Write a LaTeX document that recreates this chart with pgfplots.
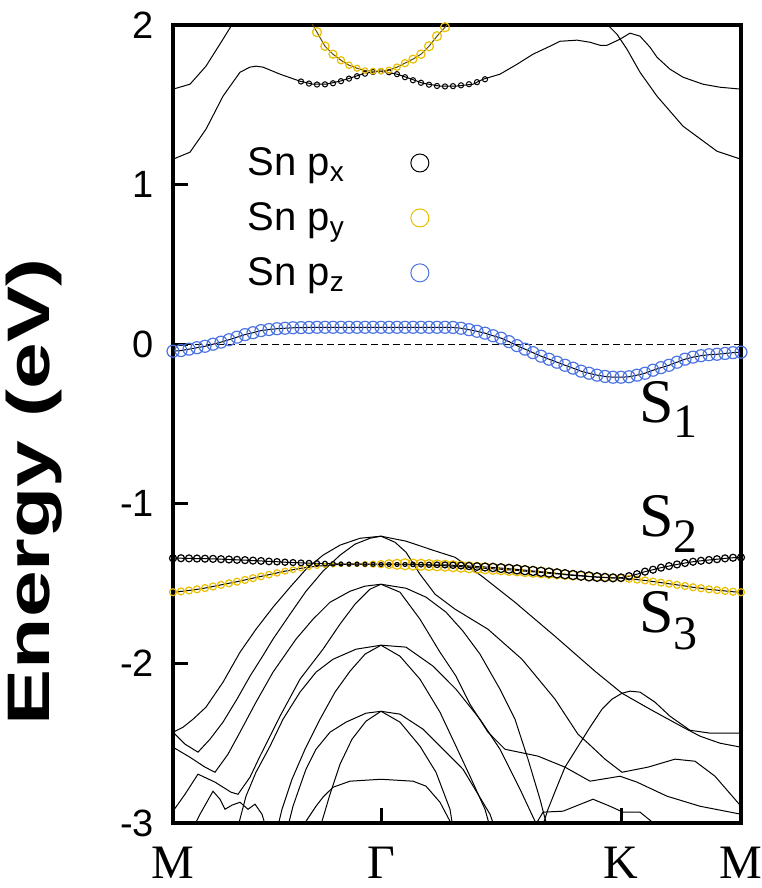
\documentclass[border=0pt]{standalone}
\usepackage{graphicx}
\usepackage{pgfplots}
\pgfplotsset{compat=1.18}
\usepackage{pgfplotstable}
\usepackage{fontspec}
\setmainfont{Liberation Serif}
\setsansfont{Liberation Sans}
\newfontfamily\hv{Liberation Sans}
\definecolor{pzblue}{RGB}{75,115,225}
\definecolor{pyyellow}{RGB}{235,190,0}

% S1 band (Sn pz), x = position along M-Gamma-K-M path
\pgfplotstableread{
u E
0 -0.044
8 -0.040
16 -0.031
24 -0.022
32 -0.013
40 0.000
48 0.013
56 0.028
64 0.044
72 0.060
80 0.072
88 0.085
96 0.092
104 0.097
112 0.100
120 0.103
128 0.104
136 0.105
144 0.106
152 0.106
160 0.106
168 0.106
176 0.106
184 0.106
192 0.106
200 0.106
208 0.106
216 0.106
224 0.106
232 0.106
240 0.106
248 0.106
256 0.106
264 0.106
272 0.106
280 0.105
288 0.100
296 0.091
304 0.081
312 0.069
320 0.053
328 0.038
336 0.016
344 -0.009
352 -0.031
360 -0.053
368 -0.075
376 -0.094
384 -0.113
392 -0.132
400 -0.150
408 -0.169
416 -0.182
424 -0.194
432 -0.202
440 -0.207
448 -0.207
456 -0.204
464 -0.194
472 -0.182
480 -0.163
488 -0.147
496 -0.132
504 -0.113
512 -0.094
520 -0.081
528 -0.072
536 -0.066
544 -0.063
552 -0.058
560 -0.053
568 -0.050
}\SOne

% S2 band (Sn px): u E r(mark size, pt)
\pgfplotstableread{
u E r
0 -1.341 1.75
8 -1.341 1.75
16 -1.342 1.75
24 -1.343 1.75
32 -1.344 1.75
40 -1.345 1.75
48 -1.347 1.75
56 -1.349 1.75
64 -1.351 1.75
72 -1.353 1.75
80 -1.356 1.75
88 -1.358 1.7
96 -1.361 1.65
104 -1.363 1.6
112 -1.366 1.55
120 -1.368 1.5
128 -1.370 1.45
136 -1.372 1.4
144 -1.373 1.3
152 -1.375 1.2
160 -1.376 1.1
168 -1.377 1.0
176 -1.378 1.0
184 -1.378 1.0
192 -1.379 1.0
200 -1.379 1.0
208 -1.380 1.0
216 -1.380 1.0
224 -1.380 1.0
232 -1.380 1.0
240 -1.380 1.1
248 -1.381 1.2
256 -1.382 1.3
264 -1.382 1.4
272 -1.383 1.5
280 -1.385 1.6
288 -1.387 1.7
296 -1.390 1.8
304 -1.393 1.9
312 -1.396 2.0
320 -1.399 2.1
328 -1.403 2.2
336 -1.407 2.25
344 -1.411 2.3
352 -1.416 2.3
360 -1.421 2.3
368 -1.426 2.3
376 -1.431 2.3
384 -1.436 2.3
392 -1.441 2.3
400 -1.446 2.3
408 -1.450 2.3
416 -1.455 2.3
424 -1.459 2.2
432 -1.462 2.1
440 -1.464 2.0
448 -1.463 1.9
456 -1.454 1.8
464 -1.441 1.75
472 -1.425 1.75
480 -1.413 1.75
488 -1.400 1.75
496 -1.390 1.75
504 -1.380 1.75
512 -1.371 1.75
520 -1.363 1.75
528 -1.357 1.75
536 -1.352 1.75
544 -1.347 1.75
552 -1.342 1.75
560 -1.338 1.75
568 -1.336 1.75
}\STwo

% S3 band (Sn py): u E r
\pgfplotstableread{
u E r
0 -1.554 1.75
8 -1.549 1.75
16 -1.543 1.75
24 -1.536 1.75
32 -1.528 1.75
40 -1.518 1.75
48 -1.508 1.75
56 -1.498 1.75
64 -1.488 1.75
72 -1.477 1.75
80 -1.466 1.75
88 -1.455 1.7
96 -1.444 1.65
104 -1.433 1.6
112 -1.422 1.5
120 -1.413 1.4
128 -1.404 1.3
136 -1.397 1.2
144 -1.391 1.1
152 -1.387 1.0
160 -1.383 1.0
168 -1.380 1.0
176 -1.379 1.0
184 -1.378 1.1
192 -1.378 1.3
200 -1.378 1.5
208 -1.378 1.8
216 -1.378 2.2
224 -1.379 2.5
232 -1.379 2.75
240 -1.381 2.75
248 -1.382 2.75
256 -1.384 2.75
264 -1.386 2.75
272 -1.388 2.75
280 -1.391 2.75
288 -1.394 2.75
296 -1.398 2.75
304 -1.401 2.75
312 -1.404 2.75
320 -1.407 2.75
328 -1.410 2.75
336 -1.414 2.75
344 -1.417 2.75
352 -1.422 2.75
360 -1.426 2.75
368 -1.430 2.7
376 -1.435 2.6
384 -1.439 2.5
392 -1.444 2.4
400 -1.449 2.3
408 -1.452 2.2
416 -1.456 2.1
424 -1.459 2.0
432 -1.461 1.9
440 -1.464 1.8
448 -1.466 1.75
456 -1.470 1.75
464 -1.475 1.75
472 -1.480 1.75
480 -1.487 1.75
488 -1.494 1.75
496 -1.501 1.75
504 -1.508 1.75
512 -1.515 1.75
520 -1.523 1.75
528 -1.529 1.75
536 -1.536 1.75
544 -1.541 1.75
552 -1.546 1.75
560 -1.551 1.75
568 -1.554 1.75
}\SThree

% upper conduction band carrying the px circles near Gamma
\pgfplotstableread{
u E
0 1.159
17 1.203
33 1.347
50 1.554
67 1.704
77 1.736
83 1.742
90 1.736
107 1.692
127 1.648
140 1.629
153 1.629
167 1.648
180 1.673
192 1.698
208 1.711
224 1.692
233 1.673
250 1.635
267 1.617
283 1.617
300 1.629
310 1.660
327 1.692
344 1.754
360 1.817
377 1.867
387 1.898
404 1.905
417 1.892
427 1.873
434 1.873
447 1.911
457 1.949
467 1.930
477 1.861
484 1.798
497 1.723
510 1.673
530 1.629
547 1.610
568 1.598
}\CBtwo

\pgfplotstableread{
u E
128 1.646
136 1.633
144 1.627
152 1.628
160 1.635
168 1.648
176 1.664
184 1.679
192 1.695
200 1.706
208 1.711
216 1.704
224 1.692
232 1.673
240 1.654
248 1.638
256 1.626
264 1.618
272 1.615
280 1.617
288 1.622
296 1.629
304 1.642
312 1.660
}\PXup

\pgfplotstableread{
u E r
136 2.04 2.25
144 1.955 2.25
152 1.867 2.1
160 1.817 2.0
168 1.779 1.8
176 1.748 1.6
184 1.729 1.5
192 1.714 1.4
200 1.711 1.4
208 1.711 1.4
216 1.717 1.5
224 1.736 1.6
232 1.761 1.8
240 1.786 2.0
248 1.817 2.1
256 1.867 2.25
264 1.930 2.25
272 1.986 2.25
280 2.049 2.25
}\PYup

\begin{document}
\begin{tikzpicture}
\path[use as bounding box] (-86.5pt,-32.5pt) rectangle (294pt,411.5pt);
\begin{axis}[
  at={(0,0)}, anchor=south west,
  width=284pt, height=399pt, scale only axis,
  xmin=0, xmax=568, ymin=-3, ymax=2,
  xtick={0,208,448,568},
  xticklabels={M,Γ,K,M},
  ytick={-3,-2,-1,0,1,2},
  yticklabels={-3,-2,-1,0,1,2},
  xtick pos=lower, ytick pos=left,
  tick align=inside,
  major tick length=7.5pt,
  every tick/.style={black, line width=1.5pt},
  axis line style={line width=2pt},
  xticklabel style={font=\fontsize{24}{24}\selectfont, yshift=-11pt, inner sep=1pt},
  yticklabel style={font=\hv\fontsize{19}{19}\selectfont, xshift=-6pt},
  ylabel={\scalebox{1.4}[1]{Energy (eV)}},
  every axis y label/.style={at={(rel axis cs:-0.245,0.415)}, rotate=90, anchor=center,
    font=\hv\bfseries\fontsize{30}{30}\selectfont},
  legend plot pos=right,
  legend cell align=left,
  legend style={at={(rel axis cs:0.113,0.857)}, anchor=north west,
    draw=none, fill=none, font=\hv\fontsize{20}{22}\selectfont,
    row sep=8pt, column sep=31pt},
  thin/.style={black, line width=0.5pt, forget plot},
]
\addlegendimage{only marks, mark=o, mark size=4.5pt, black, line width=0.5pt}
\addlegendentry{Sn p\textsubscript{x}}
\addlegendimage{only marks, mark=o, mark size=4.5pt, pyyellow, line width=0.5pt}
\addlegendentry{Sn p\textsubscript{y}}
\addlegendimage{only marks, mark=o, mark size=4.5pt, pzblue, line width=0.5pt}
\addlegendentry{Sn p\textsubscript{z}}

% Fermi level
\addplot[black, line width=0.6pt, dash pattern=on 3.3pt off 2.2pt, forget plot] coordinates {(0,0) (568,0)};

% ordinary conduction bands (thin black)
\addplot[thin] coordinates {
(0,1.598) (17,1.629) (33,1.742) (50,1.911) (58,1.992) (66,2.07) (75,2.15)};
\addplot[thin] table {\CBtwo};
\addplot[thin] coordinates {
(422,2.13) (434,2.005) (444,1.942) (454,1.848) (467,1.704) (484,1.554) (510,1.366) (544,1.209) (568,1.159)};

% valence bands (thin black)
\addplot[thin] coordinates {
(0,-2.431) (10,-2.400) (20,-2.350) (33,-2.274) (50,-2.118) (67,-1.930) (83,-1.786) (100,-1.648) (117,-1.523) (133,-1.410) (150,-1.322) (167,-1.259) (187,-1.216) (208,-1.203) (233,-1.234) (260,-1.291) (282,-1.335) (309,-1.454) (342,-1.617) (382,-1.830) (422,-2.049) (449,-2.187) (477,-2.287) (510,-2.400) (527,-2.456) (547,-2.500) (568,-2.525)};
\addplot[thin] coordinates {
(0,-2.431) (12,-2.506) (25,-2.556) (37,-2.475) (50,-2.368) (64,-2.224) (77,-2.080) (89,-1.961) (100,-1.848) (117,-1.692) (133,-1.548) (150,-1.422) (167,-1.322) (182,-1.253) (197,-1.216) (208,-1.203) (222,-1.241) (233,-1.303) (247,-1.441) (262,-1.566) (282,-1.660) (315,-1.786) (349,-1.974) (382,-2.224) (405,-2.444) (415,-2.500) (432,-2.600) (449,-2.682) (475,-2.650) (502,-2.600) (522,-2.613) (542,-2.707) (568,-2.895)};
\addplot[thin] coordinates {
(0,-2.525) (17,-2.588) (32,-2.650) (42,-2.682) (55,-2.569) (67,-2.431) (83,-2.243) (100,-2.055) (123,-1.848) (140,-1.723) (157,-1.617) (177,-1.548) (192,-1.516) (208,-1.504) (233,-1.529) (253,-1.585) (273,-1.679) (290,-1.798) (307,-1.942) (327,-2.162) (342,-2.350) (355,-2.600) (367,-2.851) (373,-2.995) (377,-3.10)};
\addplot[thin] coordinates {
(0,-2.926) (12,-2.820) (25,-2.694) (42,-2.744) (58,-2.807) (65,-2.820) (77,-2.713) (87,-2.581) (107,-2.331) (127,-2.099) (150,-1.911) (167,-1.754) (182,-1.629) (197,-1.535) (208,-1.504) (227,-1.554) (247,-1.723) (267,-1.930) (283,-2.080) (297,-2.256) (315,-2.431) (332,-2.538) (365,-2.581) (392,-2.650) (417,-2.738) (447,-2.707) (464,-2.744) (494,-2.832) (527,-2.895) (568,-2.945)};
\addplot[thin] coordinates {
(367,-3.07) (375,-2.914) (383,-2.788) (392,-2.650) (402,-2.550) (417,-2.400) (429,-2.287) (439,-2.224) (449,-2.187) (457,-2.174) (467,-2.180) (482,-2.243) (497,-2.331) (517,-2.419) (537,-2.437) (568,-2.437)};
\addplot[thin] coordinates {
(63,-3.07) (73,-2.832) (83,-2.682) (97,-2.519) (110,-2.350) (127,-2.180) (143,-2.055) (160,-1.974) (183,-1.911) (208,-1.886) (233,-1.898) (260,-2.017) (283,-2.162) (307,-2.350) (327,-2.538) (347,-2.788) (362,-2.989) (367,-3.07)};
\addplot[thin] coordinates {
(103,-3.07) (109,-2.914) (119,-2.726) (132,-2.538) (147,-2.350) (162,-2.180) (177,-2.049) (192,-1.942) (208,-1.886) (227,-1.955) (247,-2.099) (267,-2.306) (283,-2.519) (297,-2.707) (312,-2.914) (319,-3.07)};
\addplot[thin] coordinates {
(113,-3.07) (120,-2.895) (127,-2.769) (133,-2.663) (143,-2.538) (157,-2.431) (173,-2.368) (193,-2.312) (208,-2.300) (227,-2.318) (250,-2.412) (273,-2.556) (290,-2.663) (302,-2.788) (317,-2.945) (324,-3.07)};
\addplot[thin] coordinates {
(147,-3.07) (149,-2.989) (157,-2.820) (167,-2.632) (179,-2.475) (193,-2.362) (208,-2.300) (227,-2.368) (247,-2.519) (263,-2.682) (277,-2.914) (281,-3.07)};
\addplot[thin] coordinates {
(127,-3.10) (133,-2.989) (143,-2.895) (150,-2.838) (160,-2.776) (177,-2.738) (208,-2.726) (240,-2.738) (253,-2.769) (267,-2.870) (277,-2.989) (281,-3.10)};
\addplot[thin] coordinates {
(17,-3.07) (27,-2.945) (40,-2.801) (47,-2.851) (52,-2.914) (59,-2.888) (67,-2.870) (75,-2.914) (82,-2.882) (89,-2.945) (95,-3.07)};
\addplot[thin] coordinates {
(357,-3.07) (370,-2.932) (390,-2.926) (420,-2.851) (437,-2.895) (450,-2.932) (467,-2.932) (482,-3.008) (492,-3.10)};

% upper px / py circles
\addplot[only marks, mark=o, black, line width=0.5pt, mark size=1.3pt, forget plot] table {\PXup};
\addplot[pyyellow!40!black, line width=0.5pt, forget plot] table[x=u,y=E] {\PYup};
\addplot[scatter, only marks, mark=o, line width=0.6pt, forget plot,
  scatter/use mapped color={draw=pyyellow},
  visualization depends on={\thisrow{r} \as \rr},
  scatter/@pre marker code/.append style={/tikz/mark size=\rr pt}] table[x=u,y=E] {\PYup};

% S3 (py)
\addplot[thin] table[x=u,y=E] {\SThree};
\addplot[scatter, only marks, mark=o, line width=0.6pt, forget plot,
  scatter/use mapped color={draw=pyyellow},
  visualization depends on={\thisrow{r} \as \rr},
  scatter/@pre marker code/.append style={/tikz/mark size=\rr pt}] table[x=u,y=E] {\SThree};
% S2 (px)
\addplot[thin] table[x=u,y=E] {\STwo};
\addplot[scatter, only marks, mark=o, line width=0.6pt, forget plot,
  scatter/use mapped color={draw=black},
  visualization depends on={\thisrow{r} \as \rr},
  scatter/@pre marker code/.append style={/tikz/mark size=\rr pt}] table[x=u,y=E] {\STwo};
% S1 (pz)
\addplot[thin] table {\SOne};
\addplot[only marks, mark=o, pzblue, line width=0.6pt, mark size=3pt, forget plot] table {\SOne};

% labels
\node[anchor=base west, inner sep=0pt, font=\fontsize{31}{31}\selectfont] at (axis cs:466,-0.489) {S\raisebox{-7.5pt}{\fontsize{24}{24}\selectfont 1}};
\node[anchor=base west, inner sep=0pt, font=\fontsize{31}{31}\selectfont] at (axis cs:466,-1.203) {S\raisebox{-8pt}{\fontsize{24}{24}\selectfont 2}};
\node[anchor=base west, inner sep=0pt, font=\fontsize{31}{31}\selectfont] at (axis cs:466,-1.805) {S\raisebox{-8.5pt}{\fontsize{24}{24}\selectfont 3}};
\end{axis}
\end{tikzpicture}
\end{document}
